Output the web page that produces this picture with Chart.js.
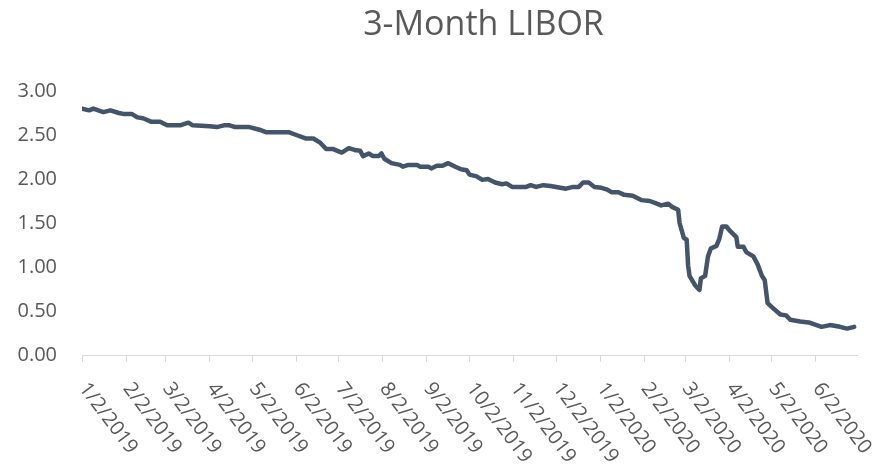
<!DOCTYPE html>
<html>
<head>
<meta charset="utf-8">
<script src="https://cdn.jsdelivr.net/npm/chart.js@4/dist/chart.umd.min.js"></script>
<style>
  html, body { margin: 0; padding: 0; background: #fff; }
  #wrap { width: 876px; height: 468px; }
</style>
</head>
<body>
<div id="wrap"><canvas id="libor" width="876" height="468"></canvas></div>
<script>
const chartTitle = '3-Month LIBOR';

// daily fixings (M/D/YYYY)
const dates = [
  '1/2/2019', '1/7/2019', '1/10/2019', '1/17/2019', '1/22/2019', '1/28/2019', '1/31/2019',
  '2/6/2019', '2/10/2019', '2/14/2019', '2/20/2019', '2/26/2019',
  '3/3/2019', '3/12/2019', '3/18/2019', '3/21/2019',
  '4/2/2019', '4/7/2019', '4/12/2019', '4/16/2019', '4/20/2019', '4/30/2019',
  '5/7/2019', '5/12/2019', '5/28/2019',
  '6/2/2019', '6/9/2019', '6/14/2019', '6/19/2019', '6/23/2019', '6/28/2019',
  '7/4/2019', '7/9/2019', '7/13/2019', '7/17/2019', '7/19/2019', '7/23/2019', '7/26/2019', '7/30/2019',
  '8/1/2019', '8/3/2019', '8/8/2019', '8/14/2019', '8/16/2019', '8/20/2019', '8/26/2019', '8/28/2019',
  '9/3/2019', '9/5/2019', '9/9/2019', '9/13/2019', '9/17/2019', '9/22/2019', '9/26/2019', '9/30/2019',
  '10/2/2019', '10/7/2019', '10/11/2019', '10/15/2019', '10/20/2019', '10/25/2019', '10/28/2019',
  '11/1/2019', '11/11/2019', '11/14/2019', '11/18/2019', '11/23/2019', '11/28/2019',
  '12/5/2019', '12/9/2019', '12/14/2019', '12/18/2019', '12/21/2019', '12/25/2019', '12/29/2019',
  '1/3/2020', '1/7/2020', '1/10/2020', '1/15/2020', '1/19/2020', '1/25/2020', '1/31/2020',
  '2/6/2020', '2/11/2020', '2/14/2020', '2/19/2020', '2/22/2020', '2/26/2020', '2/27/2020',
  '3/1/2020', '3/3/2020', '3/4/2020', '3/5/2020', '3/9/2020', '3/12/2020', '3/13/2020', '3/16/2020',
  '3/18/2020', '3/20/2020', '3/24/2020', '3/26/2020', '3/28/2020', '3/31/2020',
  '4/2/2020', '4/7/2020', '4/8/2020', '4/12/2020', '4/14/2020', '4/19/2020', '4/22/2020', '4/25/2020',
  '4/27/2020', '4/29/2020',
  '5/3/2020', '5/8/2020', '5/12/2020', '5/15/2020', '5/22/2020', '5/28/2020',
  '6/6/2020', '6/12/2020', '6/19/2020', '6/24/2020', '6/29/2020'
];

const rates = [
  2.80, 2.78, 2.80, 2.76, 2.78, 2.75, 2.74,
  2.74, 2.70, 2.69, 2.65, 2.65,
  2.61, 2.61, 2.64, 2.61,
  2.60, 2.59, 2.61, 2.61, 2.59, 2.59,
  2.56, 2.53, 2.53,
  2.50, 2.46, 2.46, 2.41, 2.34, 2.34,
  2.30, 2.35, 2.33, 2.32, 2.26, 2.29, 2.26, 2.26,
  2.29, 2.23, 2.18, 2.16, 2.14, 2.16, 2.16, 2.14,
  2.14, 2.12, 2.15, 2.15, 2.18, 2.14, 2.11, 2.10,
  2.05, 2.03, 1.99, 2.00, 1.96, 1.94, 1.95,
  1.91, 1.91, 1.93, 1.91, 1.93, 1.92,
  1.90, 1.89, 1.91, 1.91, 1.96, 1.96, 1.91,
  1.90, 1.88, 1.85, 1.85, 1.82, 1.81, 1.76,
  1.75, 1.72, 1.70, 1.72, 1.68, 1.65, 1.50,
  1.33, 1.31, 1.02, 0.90, 0.79, 0.74, 0.87, 0.90,
  1.12, 1.21, 1.24, 1.32, 1.46, 1.46,
  1.42, 1.34, 1.23, 1.23, 1.17, 1.12, 1.03, 0.90,
  0.85, 0.59,
  0.53, 0.46, 0.45, 0.40, 0.38, 0.37,
  0.32, 0.34, 0.32, 0.30, 0.32
];

const xTickLabels = [
  '1/2/2019', '2/2/2019', '3/2/2019', '4/2/2019', '5/2/2019', '6/2/2019',
  '7/2/2019', '8/2/2019', '9/2/2019', '10/2/2019', '11/2/2019', '12/2/2019',
  '1/2/2020', '2/2/2020', '3/2/2020', '4/2/2020', '5/2/2020', '6/2/2020'
];
const xAxisEnd = '7/1/2020';

const yTickLabels = ['0.00', '0.50', '1.00', '1.50', '2.00', '2.50', '3.00'];

// days since the first date, so a linear axis works without a date adapter
function dayOf(s) {
  const [m, d, y] = s.split('/').map(Number);
  return (Date.UTC(y, m - 1, d) - Date.UTC(2019, 0, 2)) / 864e5;
}

const points = dates.map((d, i) => ({ x: dayOf(d), y: rates[i] }));
const tickDays = xTickLabels.map(dayOf);
const yTicks = yTickLabels.map(Number);

const FONT = '"Open Sans", "Segoe UI", sans-serif';
const TEXT = '#595959';
const AXIS = '#d9d9d9';

// rotated date labels that start at the tick and run down to the right
const slantLabels = {
  id: 'slantLabels',
  afterDraw(chart) {
    const sx = chart.scales.x;
    const ctx = chart.ctx;
    ctx.save();
    ctx.font = '20px ' + FONT;
    ctx.fillStyle = TEXT;
    ctx.textAlign = 'left';
    ctx.textBaseline = 'middle';
    sx.ticks.forEach((t, i) => {
      const px = sx.getPixelForValue(t.value);
      ctx.save();
      ctx.translate(px + 1, sx.top + 30);
      ctx.rotate(53 * Math.PI / 180);
      ctx.fillText(xTickLabels[i], 0, 0);
      ctx.restore();
    });
    ctx.restore();
  }
};

const topTitle = {
  id: 'topTitle',
  afterDraw(chart) {
    const ctx = chart.ctx;
    const a = chart.chartArea;
    ctx.save();
    ctx.font = '34px ' + FONT;
    ctx.fillStyle = TEXT;
    ctx.textAlign = 'center';
    ctx.textBaseline = 'middle';
    ctx.fillText(chartTitle, (a.left + a.right) / 2 + 14, 25);
    ctx.restore();
  }
};

new Chart(document.getElementById('libor'), {
  type: 'line',
  data: {
    datasets: [{
      label: chartTitle,
      data: points,
      borderColor: '#44546A',
      borderWidth: 4.5,
      pointRadius: 0,
      tension: 0,
      borderJoinStyle: 'round',
      borderCapStyle: 'round'
    }]
  },
  options: {
    responsive: false,
    animation: false,
    layout: { padding: { top: 91, right: 19, bottom: 106, left: 0 } },
    plugins: {
      legend: { display: false },
      title: { display: false },
      tooltip: { enabled: false }
    },
    scales: {
      x: {
        type: 'linear',
        min: 0,
        max: dayOf(xAxisEnd),
        afterBuildTicks: (scale) => { scale.ticks = tickDays.map(v => ({ value: v })); },
        ticks: { display: false },
        grid: { drawOnChartArea: false, drawTicks: true, tickLength: 7, color: AXIS, lineWidth: 1 },
        border: { display: true, color: AXIS, width: 1 }
      },
      y: {
        min: 0,
        max: 3,
        afterBuildTicks: (scale) => { scale.ticks = yTicks.map(v => ({ value: v })); },
        afterFit: (scale) => { scale.width = 82; },
        ticks: {
          padding: 25,
          color: TEXT,
          font: { family: FONT, size: 20 },
          callback: (v) => Number(v).toFixed(2)
        },
        grid: { display: false, drawTicks: false },
        border: { display: false }
      }
    }
  },
  plugins: [slantLabels, topTitle]
});
</script>
</body>
</html>
